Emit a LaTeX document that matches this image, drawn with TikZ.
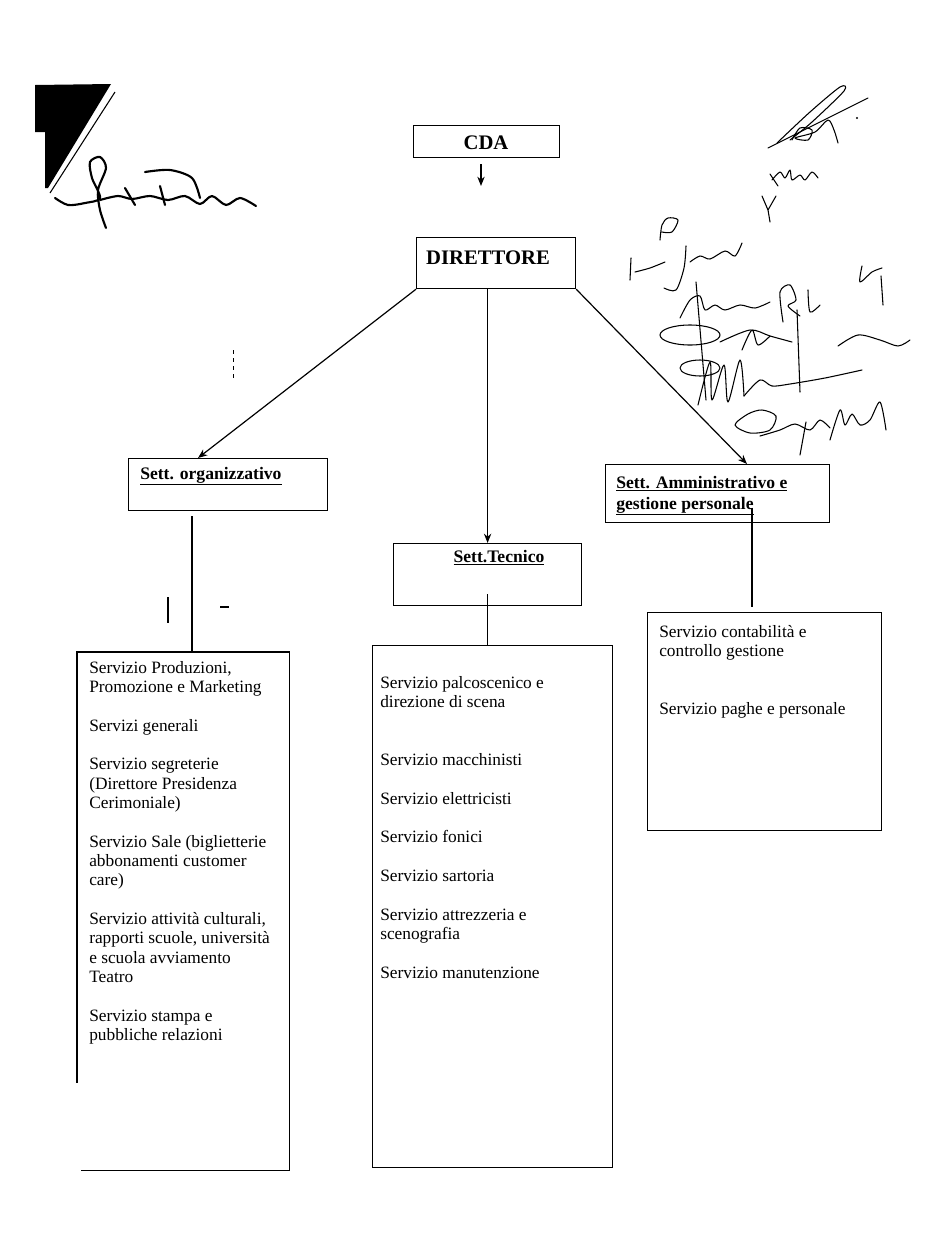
\documentclass[tikz,border=0pt]{standalone}
\usepackage{fontspec}
\setmainfont{Liberation Serif}
\usetikzlibrary{arrows.meta}
\begin{document}
\begin{tikzpicture}[x=0.75pt,y=-0.75pt,
  ln/.style={line width=0.9pt},
  arr/.style={ln,-{Stealth[length=7pt,width=5.5pt]}},
  boxnode/.style={draw,line width=0.9pt,inner sep=0pt,anchor=north west},
  headtxt/.style={font=\fontsize{15.5pt}{17pt}\selectfont\bfseries,inner sep=0pt},
  setttxt/.style={font=\fontsize{13.2pt}{15pt}\selectfont\bfseries,inner sep=0pt},
  listtxt/.style={font=\fontsize{13pt}{14.5pt}\selectfont,align=left,inner sep=0pt,anchor=north west},
  sig/.style={line width=0.8pt,line cap=round,line join=round},
  sigb/.style={line width=1.6pt,line cap=round,line join=round}]
\useasboundingbox (0,0) rectangle (942,1250);
\fill[white] (0,0) rectangle (942,1250);

% scan artefacts
\fill (35,85) -- (111,84) -- (48,188) -- (45,188) -- (45,132) -- (35,132) -- cycle;
\draw[line width=0.8pt] (115,92) -- (50,193);
\draw[line width=1.2pt] (168,597) -- (168,623);
\draw[line width=1.6pt] (220,607) -- (229,607);
\draw[line width=0.6pt,dashed] (233,350) -- (233,378);

% signatures (left)
\draw[sigb] plot[smooth] coordinates {(55,198) (68,205) (85,203) (100,198) (92,178) (90,162) (100,157) (106,168) (98,190) (100,210) (106,228)};
\draw[sigb] plot[smooth] coordinates {(100,200) (118,196) (132,199) (150,196) (168,200) (185,196) (200,204) (212,196) (226,205) (240,198) (256,206)};
\draw[sigb] plot[smooth] coordinates {(145,172) (170,170) (192,178) (200,198)};
\draw[sigb] (125,188) -- (135,205);
\draw[sigb] (160,186) -- (165,205);

% signatures (right)
\draw[sig] (768,148) -- (868,98);
\draw[sig] plot[smooth] coordinates {(777,143) (810,112) (840,87) (844,91) (812,122) (790,140)};
\draw[sig] plot[smooth] coordinates {(792,140) (800,128) (812,130) (808,140) (795,138) (815,132) (828,120) (834,130) (838,143)};
\fill (857,118) circle (1.2);
\draw[sig] plot[smooth] coordinates {(772,180) (780,172) (785,178) (790,170) (792,180) (800,175) (805,180) (812,172) (818,178)};
\draw[sig] (770,174) -- (778,186);
\draw[sig] (762,196) -- (768,210) -- (770,222);
\draw[sig] (776,196) -- (768,210);
\draw[sig] plot[smooth] coordinates {(660,240) (662,225) (668,218) (678,220) (672,232) (662,232)};
\draw[sig] (630,280) -- (631,258);
\draw[sig] plot[smooth] coordinates {(635,272) (650,268) (665,262)};
\draw[sig] plot[smooth] coordinates {(686,246) (684,268) (676,290) (664,288)};
\draw[sig] plot[smooth] coordinates {(690,262) (700,256) (710,259) (725,251) (735,256) (742,243)};
\draw[sig] plot[smooth] coordinates {(680,318) (690,300) (700,296) (705,310) (715,305) (725,310) (740,305) (755,308) (770,302)};
\draw[sig] plot[smooth] coordinates {(783,322) (780,292) (790,285) (796,300) (788,306) (800,316)};
\draw[sig] plot[smooth] coordinates {(808,290) (810,312) (820,305)};
\draw[sig] plot[smooth] coordinates {(862,266) (860,282) (872,272) (882,268)};
\draw[sig] (881,276) -- (883,305);
\draw[sig] (696,282) -- (706,400);
\draw[sig] (797,310) -- (800,392);
\draw[sig] (690,335) ellipse (30 and 10);
\draw[sig] plot[smooth] coordinates {(720,342) (750,330) (770,336) (792,342)};
\draw[sig] plot[smooth] coordinates {(838,346) (858,335) (880,340) (898,346) (910,340)};
\draw[sig] (700,368) ellipse (20 and 8);
\draw[sig] plot[smooth] coordinates {(698,405) (710,362) (712,400) (724,365) (728,402) (740,360) (744,396)};
\draw[sig] plot[smooth] coordinates {(744,396) (760,380) (772,386) (790,384) (825,378) (862,370)};
\draw[sig] plot[smooth] coordinates {(742,350) (752,330) (758,345) (770,336)};
\draw[sig] plot[smooth cycle] coordinates {(735,425) (748,414) (762,410) (776,416) (770,430) (750,433)};
\draw[sig] plot[smooth] coordinates {(760,436) (780,430) (795,424) (810,430) (820,420) (830,428)};
\draw[sig] plot[smooth] coordinates {(830,440) (840,410) (845,425) (852,414) (860,425) (870,420) (880,402) (886,430)};
\draw[sig] (806,422) -- (800,455);

% boxes
\node[boxnode,minimum width=146*0.75pt,minimum height=32*0.75pt] (cda) at (413,125) {};
\node[boxnode,minimum width=159*0.75pt,minimum height=51*0.75pt] (dir) at (416,237) {};
\node[boxnode,minimum width=199*0.75pt,minimum height=52*0.75pt] (org) at (128,458) {};
\node[boxnode,minimum width=188*0.75pt,minimum height=62*0.75pt] (tec) at (393,543) {};
\node[boxnode,minimum width=224*0.75pt,minimum height=58*0.75pt] (ama) at (605,464) {};
\node[inner sep=0pt,anchor=north west,minimum width=212*0.75pt,minimum height=518*0.75pt] (orgbox) at (77,652) {};
\node[boxnode,minimum width=240*0.75pt,minimum height=522*0.75pt] (tecbox) at (372,645) {};
\node[boxnode,minimum width=234*0.75pt,minimum height=218*0.75pt] (amabox) at (647,612) {};
\draw[ln] ([yshift=66pt]orgbox.south west) -- (orgbox.north west) -- (orgbox.north east) -- (orgbox.south east) -- ([xshift=3pt]orgbox.south west);

% texts
\node[headtxt,anchor=base] (cdat) at (486,149) {CDA};
\node[headtxt,anchor=base] (dirt) at (488,264) {DIRETTORE};
\node[setttxt,anchor=base west] (orgt) at (140,479) {\underline{Sett. organizzativo}};
\node[setttxt,anchor=base] (tect) at (499,562) {\underline{Sett.Tecnico}};
\node[setttxt,anchor=base west] (amat1) at (616,488) {\underline{Sett. Amministrativo e}};
\node[setttxt,anchor=base west] (amat2) at (616,509) {\underline{gestione personale}};

\node[listtxt] (orgl) at (89,661) {Servizio Produzioni,\\Promozione e Marketing\\[14.5pt]Servizi generali\\[14.5pt]Servizio segreterie\\(Direttore Presidenza\\Cerimoniale)\\[14.5pt]Servizio Sale (biglietterie\\abbonamenti customer\\care)\\[14.5pt]Servizio attività culturali,\\rapporti scuole, università\\e scuola avviamento\\Teatro\\[14.5pt]Servizio stampa e\\pubbliche relazioni};
\node[listtxt] (tecl) at (380,676) {Servizio palcoscenico e\\direzione di scena\\[29pt]Servizio macchinisti\\[14.5pt]Servizio elettricisti\\[14.5pt]Servizio fonici\\[14.5pt]Servizio sartoria\\[14.5pt]Servizio attrezzeria e\\scenografia\\[14.5pt]Servizio manutenzione};
\node[listtxt] (amal) at (659,625) {Servizio contabilità e\\controllo gestione\\[29pt]Servizio paghe e personale};

% connectors
\coordinate (cdaend) at (481,186);
\draw[arr] (cda.south -| cdaend) ++(0,6) -- (cdaend);
\draw[arr] (dir.south west) -- ([xshift=52.5pt]org.north west);
\draw[arr] (dir.south -| tec.north) -- (tec.north);
\draw[arr] (dir.south east) -- ([xshift=106.5pt]ama.north west);
\coordinate (orgdrop) at (192,652);
\draw[ln] (org.south -| orgdrop) ++(0,5) -- (orgdrop);
\draw[ln] (tec.south) ++(0,-12) -- (tec.south |- tecbox.north);
\coordinate (amadrop) at (752,607);
\draw[ln] (amadrop |- ama.south) ++(0,-15) -- (amadrop);
\end{tikzpicture}
\end{document}
